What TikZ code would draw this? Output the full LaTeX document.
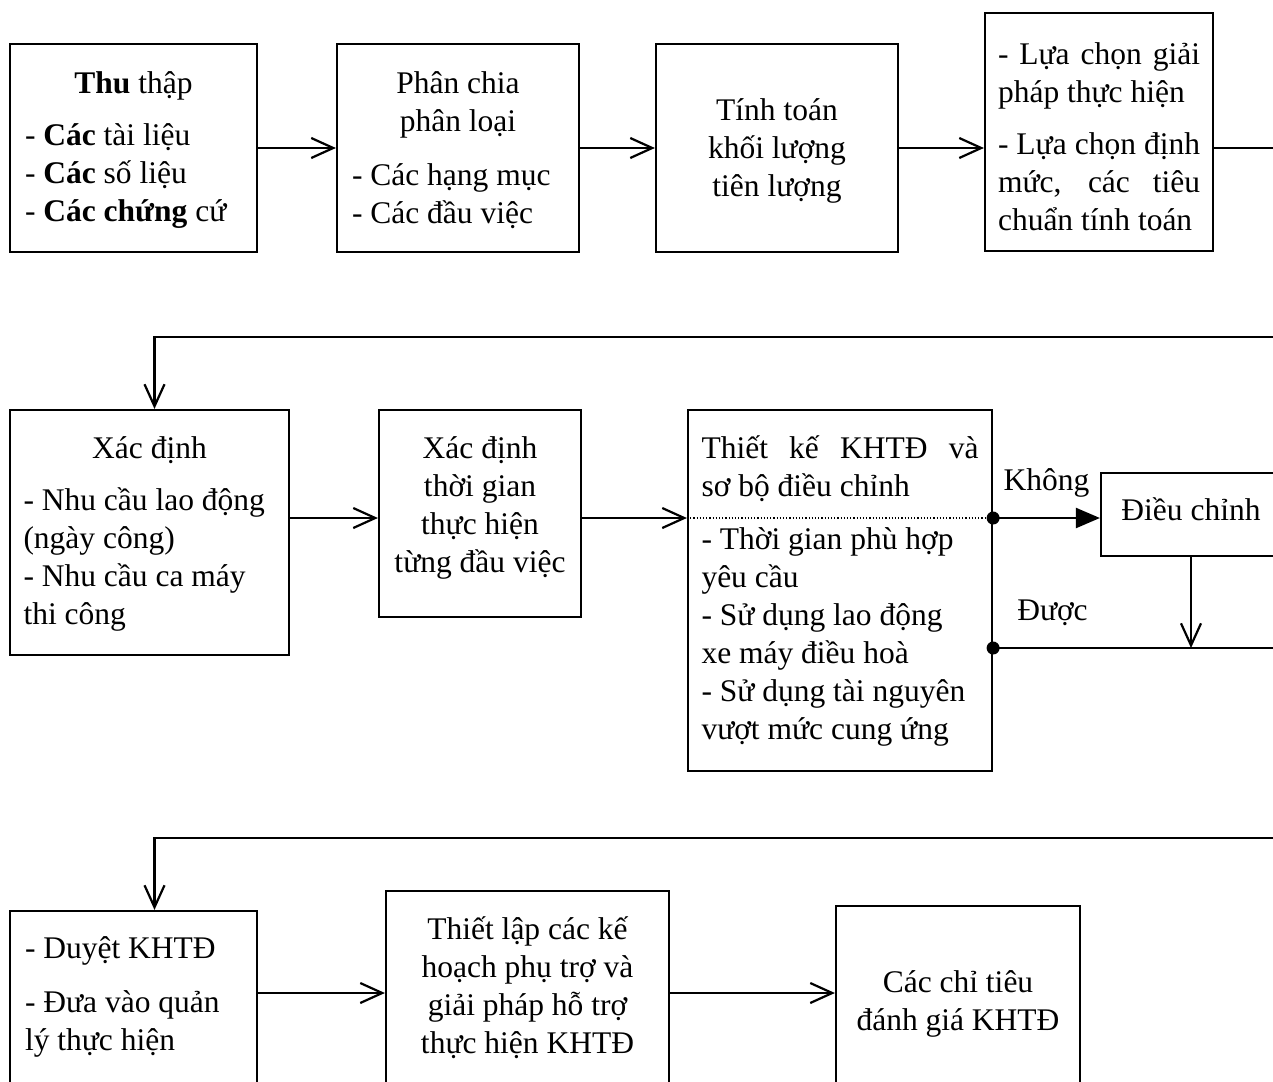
\documentclass[tikz,border=0pt]{standalone}
\usepackage{fontspec}
\setmainfont{Liberation Serif}
\usetikzlibrary{arrows.meta}

\begin{document}
\begin{tikzpicture}[x=1pt,y=-1pt, line width=2.2pt,
    txt/.style={font=\fontsize{31.5}{38}\selectfont},
    box/.style={draw, txt, inner sep=0pt, align=flush left, text height=25pt},
    arr/.style={-{Straight Barb[length=22pt,width=20pt]}},
    tri/.style={-{Triangle[length=24pt,width=20pt]}},
    lbl/.style={txt, inner sep=0pt}]
  \useasboundingbox (0,0) rectangle (1273,1081);
  \clip (0,0) rectangle (1273,1081);

  % Row 1
  \node[box, minimum width=247pt, minimum height=208pt, text width=217pt, text depth=135pt] (b1) at (133.5,148)
    {\makebox[\linewidth]{\textbf{Thu} thập}\\[14pt]
     - \textbf{Các} tài liệu\\
     - \textbf{Các} số liệu\\
     - \textbf{Các chứng} cứ};
  \node[box, minimum width=242pt, minimum height=208pt, text width=212pt, text depth=135pt] (b2) at (458,148)
    {\makebox[\linewidth]{Phân chia}\\
     \makebox[\linewidth]{phân loại}\\[16pt]
     - Các hạng mục\\
     - Các đầu việc};
  \node[box, align=flush center, minimum width=242pt, minimum height=208pt, text width=220pt, text depth=81pt] (b3) at (777,148)
    {Tính toán\\ khối lượng\\ tiên lượng};
  \node[box, minimum width=228pt, minimum height=238pt, text width=202pt, text depth=161pt] (b4) at (1099,132)
    {\makebox[\linewidth][s]{- Lựa chọn giải}\\
     pháp thực hiện\\[14pt]
     \makebox[\linewidth][s]{- Lựa chọn định}\\
     \makebox[\linewidth][s]{mức, các tiêu}\\
     chuẩn tính toán};

  \draw[arr] (b1) -- (b2);
  \draw[arr] (b2) -- (b3);
  \draw[arr] (b3.east) -- (b3.east -| b4.west);
  \coordinate (e1) at (1290,148);
  \draw (b3.east -| b4.east) -- (e1);

  % Row 2
  \node[box, minimum width=279pt, minimum height=245pt, text width=252pt, text depth=174pt] (b5) at (149.5,532.5)
    {\makebox[\linewidth]{Xác định}\\[14pt]
     - Nhu cầu lao động\\
     (ngày công)\\
     - Nhu cầu ca máy\\
     thi công};
  \node[box, align=flush center, minimum width=202pt, minimum height=207pt, text width=190pt, text depth=136pt] (b6) at (480,513.5)
    {Xác định\\ thời gian\\ thực hiện\\ từng đầu việc};
  \node[box, minimum width=304pt, minimum height=361pt, text width=277pt, text depth=290pt] (b7) at (840,590.5)
    {\makebox[\linewidth][s]{Thiết kế KHTĐ và}\\
     sơ bộ điều chỉnh\\[15pt]
     - Thời gian phù hợp\\
     yêu cầu\\
     - Sử dụng lao động\\
     xe máy điều hoà\\
     - Sử dụng tài nguyên\\
     vượt mức cung ứng};
  \node[box, align=flush center, minimum width=180pt, minimum height=83pt, text depth=14pt] (b8) at (1191,514.5)
    {Điều chỉnh};

  \coordinate (e2) at (1290,337);
  \coordinate (k1) at (b7.east |- 0,518);
  \coordinate (k2) at (b7.east |- 0,648);
  \coordinate (e3) at (1290,648);
  \draw[arr] (e2) -| ([xshift=5pt]b5.north);
  \draw[arr] (b5.east |- k1) -- (b6.west |- k1);
  \draw[arr] (b6.east |- k1) -- (b7.west |- k1);
  \draw[dotted, line width=1.2pt] (b7.west |- k1) -- (k1);
  \draw[tri] (k1) -- (b8.west |- k1) node[lbl, midway, anchor=base, yshift=28pt] {Không};
  \draw[arr] (b8) -- (b8 |- k2);
  \draw (k2) -- (e3) node[lbl, pos=0.2, anchor=base, yshift=28pt] {Được};
  \fill (k1) circle (6.5pt);
  \fill (k2) circle (6.5pt);

  % Row 3
  \node[box, minimum width=247pt, minimum height=200pt, text width=217pt, text depth=131pt] (b9) at (133.5,1011)
    {- Duyệt KHTĐ\\[16pt]
     - Đưa vào quản\\
     lý thực hiện};
  \node[box, align=flush center, minimum width=283pt, minimum height=220pt, text width=260pt, text depth=149pt] (b10) at (527.5,1001)
    {Thiết lập các kế\\ hoạch phụ trợ và\\ giải pháp hỗ trợ\\ thực hiện KHTĐ};
  \node[box, align=flush center, minimum width=244pt, minimum height=205pt, text width=220pt, text depth=58pt] (b11) at (958,1008.5)
    {Các chỉ tiêu\\ đánh giá KHTĐ};

  \coordinate (e4) at (1290,838);
  \coordinate (r3) at (0,993);
  \draw[arr] (e4) -| ([xshift=21pt]b9.north);
  \draw[arr] (b9.east |- r3) -- (b10.west |- r3);
  \draw[arr] (b10.east |- r3) -- (b11.west |- r3);
\end{tikzpicture}
\end{document}
